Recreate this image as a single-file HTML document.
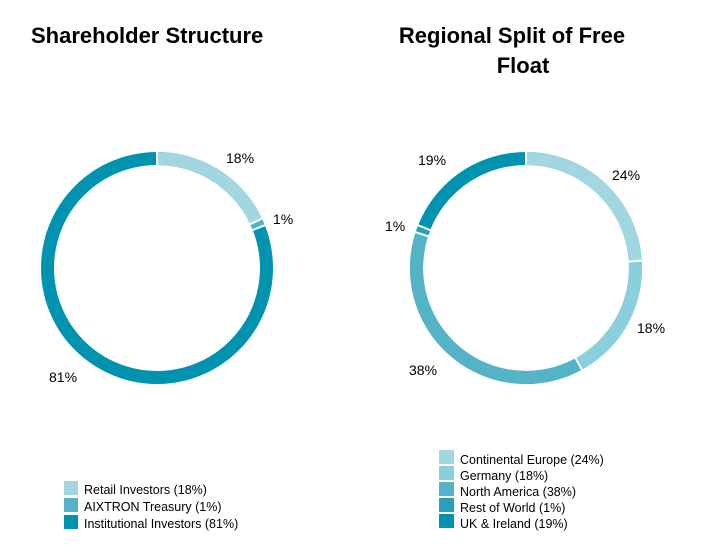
<!DOCTYPE html><html><head><style>body{margin:0;background:#fff}svg{display:block}text{font-family:"Liberation Sans",sans-serif;fill:#000}</style></head><body>
<svg width="718" height="558" viewBox="0 0 718 558">
<text x="31" y="43" font-size="22" font-weight="bold">Shareholder Structure</text>
<text x="512" y="43" font-size="22" font-weight="bold" text-anchor="middle">Regional Split of Free</text>
<text x="523" y="73" font-size="22" font-weight="bold" text-anchor="middle">Float</text>
<g transform="translate(157,268) rotate(-90)" fill="none" stroke-width="13">
<circle r="109.5" stroke="#0093b0"/>
<circle r="109.5" stroke="#a2d6e1" stroke-dasharray="123.8 1000"/>
<circle r="109.5" stroke="#55b3c8" stroke-dasharray="0 123.8 6.9 1000"/>
</g>
<g transform="translate(157,268)" stroke="#fff" stroke-width="2">
<line x1="0" y1="-101" x2="0" y2="-118"/>
<line x1="0" y1="-101" x2="0" y2="-118" transform="rotate(64.8)"/>
<line x1="0" y1="-101" x2="0" y2="-118" transform="rotate(68.4)"/>
</g>
<g transform="translate(526,268) rotate(-90)" fill="none" stroke-width="13">
<circle r="109.5" stroke="#0093b0"/>
<circle r="109.5" stroke="#a2d6e1" stroke-dasharray="165.1 1000"/>
<circle r="109.5" stroke="#8acfdc" stroke-dasharray="0 165.1 123.8 1000"/>
<circle r="109.5" stroke="#55b3c8" stroke-dasharray="0 288.9 261.4 1000"/>
<circle r="109.5" stroke="#2aa0b8" stroke-dasharray="0 550.3 6.9 1000"/>
</g>
<g transform="translate(526,268)" stroke="#fff" stroke-width="2">
<line x1="0" y1="-101" x2="0" y2="-118"/>
<line x1="0" y1="-101" x2="0" y2="-118" transform="rotate(86.4)"/>
<line x1="0" y1="-101" x2="0" y2="-118" transform="rotate(151.2)"/>
<line x1="0" y1="-101" x2="0" y2="-118" transform="rotate(288)"/>
<line x1="0" y1="-101" x2="0" y2="-118" transform="rotate(291.6)"/>
</g>
<g font-size="14">
<text x="226" y="163">18%</text>
<text x="273" y="224">1%</text>
<text x="49" y="382">81%</text>
<text x="418" y="165">19%</text>
<text x="612" y="180">24%</text>
<text x="385" y="231">1%</text>
<text x="637" y="333">18%</text>
<text x="409" y="375">38%</text>
</g>
<g font-size="12.5">
<rect x="64" y="481" width="14" height="14" fill="#a2d6e1"/><text x="84" y="494">Retail Investors (18%)</text>
<rect x="64" y="498" width="14" height="14" fill="#55b3c8"/><text x="84" y="511">AIXTRON Treasury (1%)</text>
<rect x="64" y="515" width="14" height="14" fill="#0093b0"/><text x="84" y="528">Institutional Investors (81%)</text>
<rect x="439" y="450" width="15" height="14" fill="#a2d6e1"/><text x="460" y="464">Continental Europe (24%)</text>
<rect x="439" y="466" width="15" height="14" fill="#8acfdc"/><text x="460" y="480">Germany (18%)</text>
<rect x="439" y="482" width="15" height="14" fill="#55b3c8"/><text x="460" y="496">North America (38%)</text>
<rect x="439" y="498" width="15" height="14" fill="#2aa0b8"/><text x="460" y="512">Rest of World (1%)</text>
<rect x="439" y="514" width="15" height="14" fill="#0093b0"/><text x="460" y="528">UK &amp; Ireland (19%)</text>
</g>
</svg></body></html>
